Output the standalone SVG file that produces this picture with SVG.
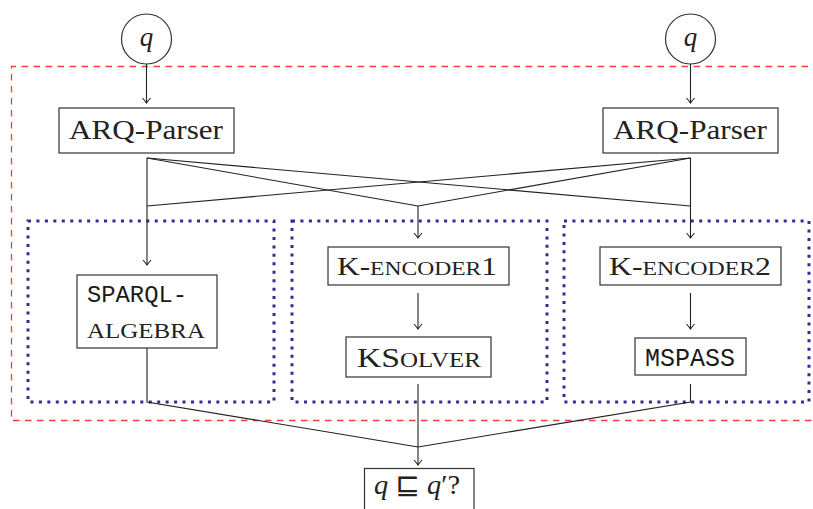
<svg xmlns="http://www.w3.org/2000/svg" width="813" height="509" viewBox="0 0 813 509">
<style>
  .box { fill: #ffffff; stroke: #333333; stroke-width: 1.2; }
  .circ { fill: #ffffff; stroke: #333333; stroke-width: 1.2; }
  .edge { fill: none; stroke: #222222; stroke-width: 1.1; }
  .dot { fill: none; stroke: #2e2e92; stroke-width: 3; stroke-dasharray: 3 5.45; }
  .dash { fill: none; stroke: #ff3b3b; stroke-width: 1.3; stroke-dasharray: 6.5 5.5; }
  .serif { font-family: "Liberation Serif", "DejaVu Serif", serif; fill: #222222; }
  .mono { font-family: "Liberation Mono", "DejaVu Sans Mono", monospace; fill: #1a1a1a; }
  .it { font-style: italic; }
</style>
<defs>
  <marker id="arr" viewBox="-7 -5 8 10" markerWidth="8" markerHeight="10" refX="0" refY="0" orient="auto" markerUnits="userSpaceOnUse">
    <path d="M-5,-4 Q-1.5,-1 0,0 Q-1.5,1 -5,4" fill="none" stroke="#222222" stroke-width="1.1"/>
  </marker>
</defs>
<rect width="813" height="509" fill="#ffffff"/>

<g id="outer-frame">
  <path class="dash" d="M820,66.5 L11.5,66.5 L11.5,420.5 L820,420.5"/>
</g>
<g id="group-left">
  <rect class="dot" x="28" y="221" width="246" height="181"/>
</g>
<g id="group-middle">
  <rect class="dot" x="292" y="221" width="255" height="181"/>
</g>
<g id="group-right">
  <rect class="dot" x="564" y="221" width="245" height="181"/>
</g>

<g id="connectors">
  <line class="edge" x1="146.5" y1="64" x2="146.5" y2="103" marker-end="url(#arr)"/>
  <line class="edge" x1="690.5" y1="64" x2="690.5" y2="103" marker-end="url(#arr)"/>
  <line class="edge" x1="147" y1="158" x2="690.5" y2="206"/>
  <line class="edge" x1="147" y1="158" x2="418" y2="206"/>
  <line class="edge" x1="690.5" y1="158" x2="147" y2="206"/>
  <line class="edge" x1="690.5" y1="158" x2="418" y2="206"/>
  <line class="edge" x1="147" y1="158" x2="147" y2="265" marker-end="url(#arr)"/>
  <line class="edge" x1="418" y1="206" x2="418" y2="238" marker-end="url(#arr)"/>
  <line class="edge" x1="690.5" y1="158" x2="690.5" y2="238" marker-end="url(#arr)"/>
  <line class="edge" x1="418" y1="293" x2="418" y2="329" marker-end="url(#arr)"/>
  <line class="edge" x1="690.5" y1="293" x2="690.5" y2="329" marker-end="url(#arr)"/>
  <polyline class="edge" points="147,339 147,402 418,447"/>
  <polyline class="edge" points="690.5,384 690.5,402 418,447"/>
  <line class="edge" x1="418" y1="384" x2="418" y2="465" marker-end="url(#arr)"/>
</g>

<g id="q-left">
  <circle class="circ" cx="146.5" cy="39" r="25"/>
  <text class="serif it" x="146.5" y="46" font-size="27" text-anchor="middle">q</text>
</g>
<g id="q-right">
  <circle class="circ" cx="690.5" cy="39" r="25"/>
  <text class="serif it" x="690.5" y="46" font-size="27" text-anchor="middle">q</text>
</g>

<g id="parser-left">
  <rect class="box" x="59" y="108" width="175" height="45"/>
  <text class="serif" x="69" y="138.5" font-size="26.5" textLength="154" lengthAdjust="spacingAndGlyphs">ARQ-Parser</text>
</g>
<g id="parser-right">
  <rect class="box" x="603" y="108" width="175" height="45"/>
  <text class="serif" x="613" y="138.5" font-size="26.5" textLength="154" lengthAdjust="spacingAndGlyphs">ARQ-Parser</text>
</g>

<g id="sparql-algebra">
  <rect class="box" x="77" y="275" width="140" height="73"/>
  <text class="mono" x="87" y="302" font-size="24" textLength="100" lengthAdjust="spacingAndGlyphs">SPARQL-</text>
  <text class="serif" x="87" y="338" font-size="20" textLength="118" lengthAdjust="spacingAndGlyphs">ALGEBRA</text>
</g>

<g id="k-encoder1">
  <rect class="box" x="328" y="247" width="181" height="38"/>
  <text class="serif" x="337" y="275" font-size="26" textLength="160" lengthAdjust="spacingAndGlyphs">K-<tspan font-size="19.5">ENCODER</tspan>1</text>
</g>
<g id="ksolver">
  <rect class="box" x="346" y="337" width="145" height="40"/>
  <text class="serif" x="357" y="367" font-size="27" textLength="124" lengthAdjust="spacingAndGlyphs">KS<tspan font-size="20">OLVER</tspan></text>
</g>

<g id="k-encoder2">
  <rect class="box" x="600" y="247" width="181" height="38"/>
  <text class="serif" x="609" y="275" font-size="26" textLength="162" lengthAdjust="spacingAndGlyphs">K-<tspan font-size="19.5">ENCODER</tspan>2</text>
</g>
<g id="mspass">
  <rect class="box" x="635" y="338" width="111" height="37"/>
  <text class="mono" x="645" y="366" font-size="25" textLength="90" lengthAdjust="spacingAndGlyphs">MSPASS</text>
</g>

<g id="containment">
  <rect class="box" x="364.5" y="468.5" width="109.5" height="50"/>
  <text class="serif" x="374" y="494" font-size="27" textLength="86" lengthAdjust="spacingAndGlyphs"><tspan font-style="italic">q</tspan> <tspan font-family="DejaVu Sans, sans-serif" font-size="28">⊑</tspan> <tspan font-style="italic">q</tspan>′?</text>
</g>
</svg>
